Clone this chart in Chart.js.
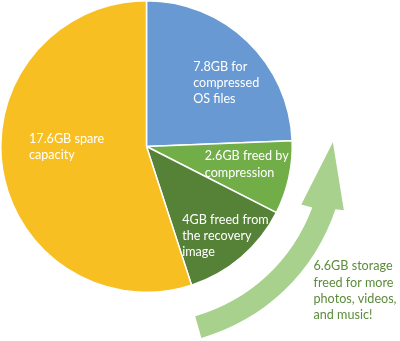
<html><head><meta charset="UTF-8">
<title>Storage breakdown</title>
<style>
    body, html {
        margin: 0;
        padding: 0;
        background-color: #ffffff;
    }
    canvas {
        display: block;
    }
</style>
<script src="https://cdn.jsdelivr.net/npm/chart.js"></script>
</head>
<body>
    <canvas id="storageChart" width="400" height="341"></canvas>

    <script>
        // Storage split, in GB, clockwise from 12 o'clock
        const sizesGB = [7.8, 2.6, 4, 17.6];
        const captions = [
            ['for', 'compressed', 'OS files'],
            ['freed by', 'compression'],
            ['freed from', 'the recovery', 'image'],
            ['spare', 'capacity']
        ];
        const sliceColors = ['#6899d2', '#72ae48', '#568237', '#f8bf23'];
        const freedIdx = [1, 2];
        const freedCaption = ['storage', 'freed for more', 'photos, videos,', 'and music!'];

        // label anchors (left edge, first baseline) in units of the pie radius
        const labelAnchors = [[0.32, -0.52], [0.40, 0.096], [0.245, 0.53], [-0.806, -0.023]];
        const freedAnchor = [1.146, 0.849];
        const lineHeight = 16.3;
        const labelFont = '12.6px Lato, "Open Sans", sans-serif';

        function captionLines(i) {
            const first = sizesGB[i] + 'GB ' + captions[i][0];
            return [first].concat(captions[i].slice(1));
        }

        // curved arrow wrapped round the freed slices
        const arrowPlugin = {
            id: 'arrow',
            beforeDatasetsDraw(chart) {
                const arc = chart.getDatasetMeta(0).data[0];
                const cx = arc.x, cy = arc.y, r = arc.outerRadius;
                const rad = d => d * Math.PI / 180;
                const pt = (k, a) => [cx + k * r * Math.cos(rad(a)), cy + k * r * Math.sin(rad(a))];
                const ctx = chart.ctx;
                ctx.save();
                ctx.fillStyle = '#a9d18e';
                ctx.beginPath();
                ctx.arc(cx, cy, 1.366 * r, rad(74), rad(18.4), true);
                let p = pt(1.423, 17.9); ctx.lineTo(p[0], p[1]);
                p = pt(1.279, -1.3); ctx.lineTo(p[0], p[1]);
                p = pt(1.134, 20.5); ctx.lineTo(p[0], p[1]);
                ctx.arc(cx, cy, 1.212 * r, rad(20.2), rad(74), false);
                ctx.closePath();
                ctx.fill();
                ctx.restore();
            }
        };

        const labelPlugin = {
            id: 'sliceLabels',
            afterDatasetsDraw(chart) {
                const arc = chart.getDatasetMeta(0).data[0];
                const cx = arc.x, cy = arc.y, r = arc.outerRadius;
                const ctx = chart.ctx;
                ctx.save();
                ctx.font = labelFont;
                ctx.textAlign = 'left';
                ctx.textBaseline = 'alphabetic';
                ctx.fillStyle = '#ffffff';
                sizesGB.forEach((v, i) => {
                    const x = cx + labelAnchors[i][0] * r;
                    const y = cy + labelAnchors[i][1] * r;
                    captionLines(i).forEach((line, j) => ctx.fillText(line, x, y + j * lineHeight));
                });
                // freed total beside the arrow
                const freed = freedIdx.reduce((s, i) => s + sizesGB[i], 0);
                const lines = [(Math.round(freed * 10) / 10) + 'GB ' + freedCaption[0]].concat(freedCaption.slice(1));
                ctx.fillStyle = '#5b8c3b';
                const x = cx + freedAnchor[0] * r;
                const y = cy + freedAnchor[1] * r;
                lines.forEach((line, j) => ctx.fillText(line, x, y + j * lineHeight));
                ctx.restore();
            }
        };

        new Chart(document.getElementById('storageChart'), {
            type: 'pie',
            data: {
                labels: sizesGB.map((v, i) => captionLines(i).join(' ')),
                datasets: [{
                    data: sizesGB,
                    backgroundColor: sliceColors,
                    borderColor: '#ffffff',
                    borderWidth: 1.5
                }]
            },
            options: {
                responsive: false,
                animation: false,
                layout: {
                    padding: { left: -1, top: -1, right: 107, bottom: 48 }
                },
                plugins: {
                    legend: { display: false },
                    tooltip: { enabled: false }
                }
            },
            plugins: [arrowPlugin, labelPlugin]
        });
    </script>
</body>
</html>
